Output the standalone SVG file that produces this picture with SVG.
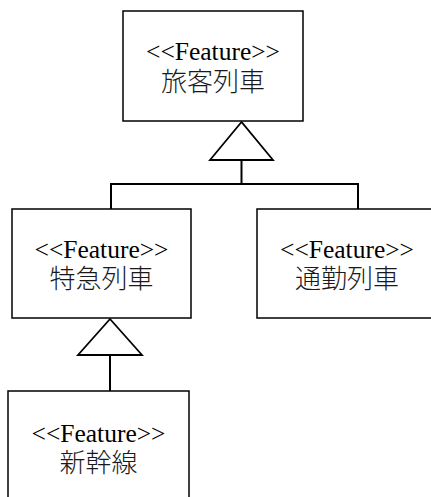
<svg xmlns="http://www.w3.org/2000/svg" width="431" height="497" viewBox="0 0 431 497">
  <style>
    .box { fill: #ffffff; stroke: #000000; stroke-width: 1.5; }
    .edge { fill: none; stroke: #000000; stroke-width: 2; }
    .head { fill: #ffffff; stroke: #000000; stroke-width: 1.8; stroke-linejoin: miter; }
    .st { font-family: "Liberation Serif", "Times New Roman", serif; font-size: 25.5px; fill: #000000; text-anchor: middle; }
    .nm { font-family: "Noto Sans CJK JP", "Noto Sans CJK SC", sans-serif; font-size: 26px; font-weight: 300; fill: #1a1a1a; text-anchor: middle; }
  </style>
  <rect width="431" height="497" fill="#ffffff"/>

  <!-- generalization connectors -->
  <g id="connectors">
    <polyline class="edge" points="241.5,160 241.5,184"/>
    <polyline class="edge" points="111,209 111,184 358,184 358,209"/>
    <polygon class="head" points="241.5,122 210,160 273,160"/>
    <polyline class="edge" points="110,355 110,391"/>
    <polygon class="head" points="110,319 78,355 142,355"/>
  </g>

  <g id="node-ryokaku">
    <rect class="box" x="123" y="11" width="180" height="110"/>
    <text class="st" x="213" y="60">&lt;&lt;Feature&gt;&gt;</text>
    <text class="nm" x="213" y="90.5">旅客列車</text>
  </g>

  <g id="node-tokkyu">
    <rect class="box" x="12" y="209" width="179" height="109"/>
    <text class="st" x="101.5" y="257.5">&lt;&lt;Feature&gt;&gt;</text>
    <text class="nm" x="101.5" y="287.5">特急列車</text>
  </g>

  <g id="node-tsukin">
    <rect class="box" x="257" y="209" width="180" height="109"/>
    <text class="st" x="347" y="257.5">&lt;&lt;Feature&gt;&gt;</text>
    <text class="nm" x="347" y="287.5">通勤列車</text>
  </g>

  <g id="node-shinkansen">
    <rect class="box" x="8" y="391" width="181" height="120"/>
    <text class="st" x="98.5" y="442">&lt;&lt;Feature&gt;&gt;</text>
    <text class="nm" x="98.5" y="471.5">新幹線</text>
  </g>
</svg>
